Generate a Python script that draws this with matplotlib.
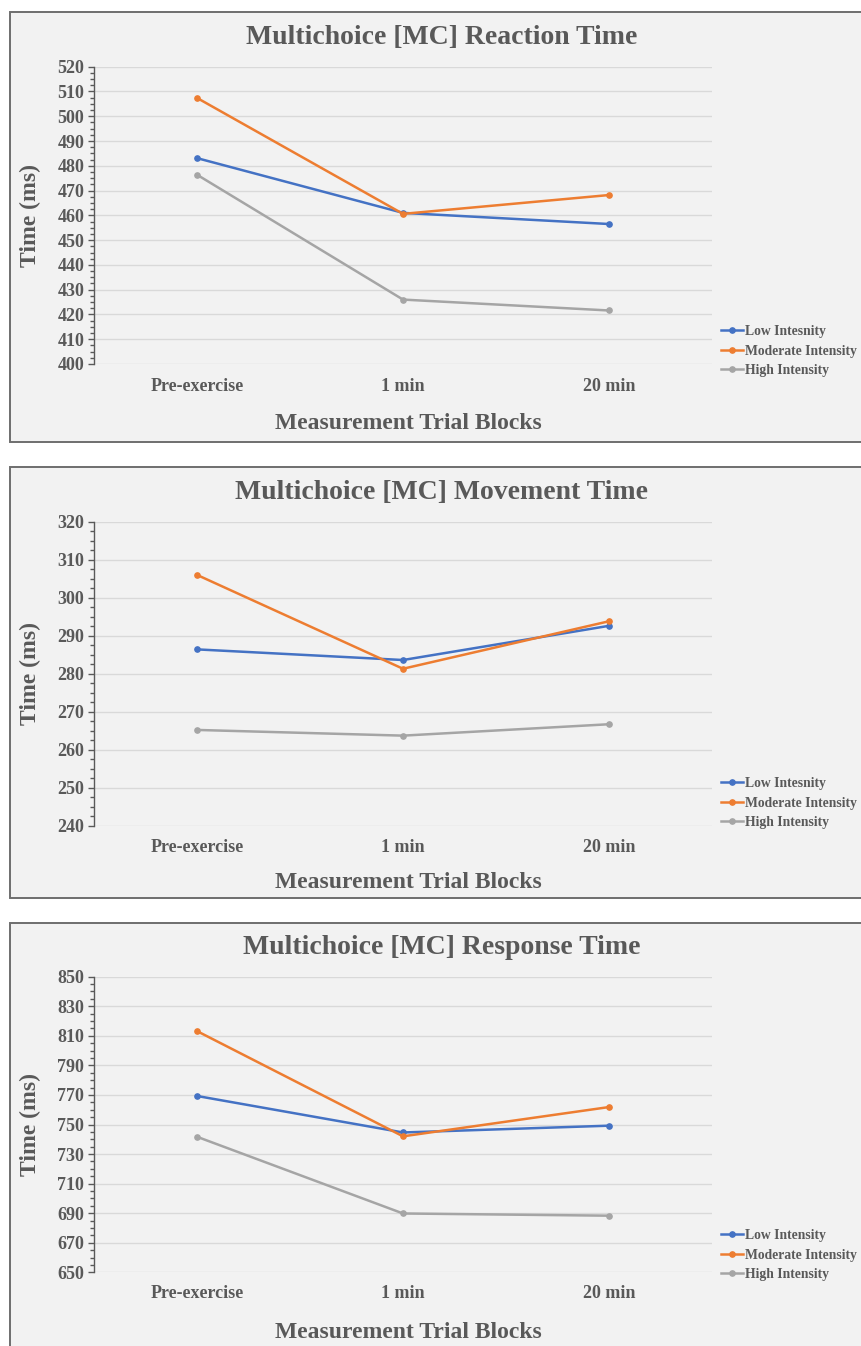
import matplotlib
matplotlib.use("Agg")
import matplotlib.pyplot as plt
import numpy as np
from matplotlib.patches import Rectangle
from matplotlib.ticker import FixedLocator

# ---------------- data ----------------
categories = ["Pre-exercise", "1 min", "20 min"]

rt_low = [483.1, 461.0, 456.5]
rt_moderate = [507.4, 460.6, 468.2]
rt_high = [476.4, 426.0, 421.6]

mt_low = [286.4, 283.6, 292.6]
mt_moderate = [306.0, 281.3, 293.8]
mt_high = [265.2, 263.7, 266.7]

resp_low = [769.3, 744.6, 749.2]
resp_moderate = [813.2, 742.0, 761.8]
resp_high = [741.7, 689.8, 688.3]

titles = ["Multichoice [MC] Reaction Time",
          "Multichoice [MC] Movement Time",
          "Multichoice [MC] Response Time"]
legend_labels_12 = ["Low Intesnity", "Moderate Intensity", "High Intensity"]
legend_labels_3 = ["Low Intensity", "Moderate Intensity", "High Intensity"]
y_label = "Time (ms)"
x_label = "Measurement Trial Blocks"

# ---------------- style ----------------
W, H = 862, 1346
DPI = 100
BLUE, ORANGE, GRAY = "#4472C4", "#ED7D31", "#A5A5A5"
TXT = "#595959"
FONT = "Liberation Serif"

plt.rcParams["font.family"] = [FONT, "DejaVu Serif"]
plt.rcParams["font.weight"] = "bold"

fig = plt.figure(figsize=(W / DPI, H / DPI), dpi=DPI)
fig.patch.set_facecolor("white")


def fx(px):
    return px / W


def fy(py):
    return 1 - py / H


panels = [
    dict(series=[rt_low, rt_moderate, rt_high], labels=legend_labels_12,
         ylim=(400, 520), step=10, ax_top=66.7, ax_bot=364.0,
         box_top=12.0, box_bot=441.7, title_y=38.0, xlabel_y=423.5,
         leg_y=351.0, cat_pad=10.0),
    dict(series=[mt_low, mt_moderate, mt_high], labels=legend_labels_12,
         ylim=(240, 320), step=10, ax_top=521.7, ax_bot=825.7,
         box_top=466.7, box_bot=897.7, title_y=493.0, xlabel_y=883.0,
         leg_y=803.0, cat_pad=9.5),
    dict(series=[resp_low, resp_moderate, resp_high], labels=legend_labels_3,
         ylim=(650, 850), step=20, ax_top=976.7, ax_bot=1272.3,
         box_top=922.7, box_bot=1380.0, title_y=947.5, xlabel_y=1332.5,
         leg_y=1255.0, cat_pad=9.0),
]

AX_L, AX_R = 94.0, 712.0
colors = [BLUE, ORANGE, GRAY]

for i, p in enumerate(panels):
    # panel background with border
    rect = Rectangle((fx(10), fy(p["box_bot"])), fx(900) - fx(10),
                     fy(p["box_top"]) - fy(p["box_bot"]),
                     transform=fig.transFigure, facecolor="#F2F2F2",
                     edgecolor="#6E6E6E", linewidth=1.4, zorder=-10)
    fig.patches.append(rect)

    ax = fig.add_axes([fx(AX_L), fy(p["ax_bot"]), fx(AX_R) - fx(AX_L),
                       fy(p["ax_top"]) - fy(p["ax_bot"])])
    ax.set_zorder(1)
    ax.set_facecolor("none")
    x = list(range(len(categories)))
    handles = []
    for vals, c, lab in zip(p["series"], colors, p["labels"]):
        h, = ax.plot(x, vals, color=c, linewidth=1.8, marker="o",
                     markersize=3.8, label=lab, zorder=3)
        handles.append(h)

    lo, hi = p["ylim"]
    ax.set_xlim(-0.5, len(categories) - 0.5)
    ax.set_ylim(lo, hi)
    ax.set_xticks(x)
    ax.set_xticklabels(categories)
    ax.yaxis.set_major_locator(FixedLocator(np.arange(lo, hi + 0.1, p["step"])))
    ax.yaxis.set_minor_locator(FixedLocator(np.arange(lo, hi + 0.1, p["step"] / 4)))
    ax.grid(axis="y", which="major", color="#D9D9D9", linewidth=1.0, zorder=0)
    ax.set_axisbelow(True)

    for s in ["top", "right", "bottom"]:
        ax.spines[s].set_visible(False)
    ax.spines["left"].set_color("#595959")
    ax.spines["left"].set_linewidth(1.0)

    ax.tick_params(axis="x", length=0, pad=p["cat_pad"], labelsize=13,
                   labelcolor=TXT)
    ax.tick_params(axis="y", which="major", length=4, width=1.0,
                   color="#595959", labelsize=13, labelcolor=TXT, pad=3)
    ax.tick_params(axis="y", which="minor", length=3, width=1.0,
                   color="#595959")
    for lbl in ax.get_xticklabels() + ax.get_yticklabels():
        lbl.set_fontweight("bold")

    ax_h = p["ax_bot"] - p["ax_top"]
    ax_w = AX_R - AX_L
    ax.text((441.5 - AX_L) / ax_w, (p["ax_bot"] - p["title_y"]) / ax_h,
            titles[i], transform=ax.transAxes, fontsize=20,
            fontweight="bold", color=TXT, ha="center", va="center")
    ax.set_xlabel(x_label, fontsize=17, fontweight="bold", color=TXT)
    ax.xaxis.label.set_va("center")
    ax.xaxis.set_label_coords((408.5 - AX_L) / ax_w,
                              -(p["xlabel_y"] - p["ax_bot"]) / ax_h)
    ax.set_ylabel(y_label, fontsize=17, fontweight="bold", color=TXT)
    ax.yaxis.label.set_va("center")
    ax.yaxis.set_label_coords(-(AX_L - 30) / ax_w, 0.5)

    ax.legend(handles=handles, loc="center left",
              bbox_to_anchor=(fx(721), fy(p["leg_y"])),
              bbox_transform=fig.transFigure, frameon=False,
              prop={"family": FONT, "weight": "bold", "size": 9.8},
              handlelength=1.65, handletextpad=0.08, labelspacing=0.47,
              borderpad=0, borderaxespad=0, labelcolor=TXT)

fig.savefig("out.png", dpi=DPI, facecolor="white")
